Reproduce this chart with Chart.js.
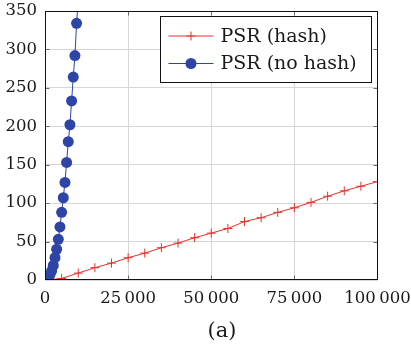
<!DOCTYPE html>
<html>
<head>
<meta charset="utf-8">
<script src="https://cdn.jsdelivr.net/npm/chart.js@4.4.1/dist/chart.umd.min.js"></script>
<style>
  html, body { margin: 0; padding: 0; background: #fff; }
  #wrap { width: 411px; height: 347px; }
</style>
</head>
<body>
<div id="wrap"><canvas id="c" width="411" height="347"></canvas></div>
<script>
// PSR running time with and without hashing
const hashX = [0, 5000, 10000, 15000, 20000, 25000, 30000, 35000, 40000, 45000, 50000,
               55000, 60000, 65000, 70000, 75000, 80000, 85000, 90000, 95000, 100000];
const hashY = [0, 2, 9, 16, 22, 29, 35, 42, 48, 55, 61,
               67, 76, 81, 88, 94, 101, 109, 116, 122, 128];

const noHashX = [0, 500, 1000, 1500, 2000, 2500, 3000, 3500, 4000, 4500, 5000,
                 5500, 6000, 6500, 7000, 7500, 8000, 8500, 9000, 9500, 10000];
const noHashY = [0, 1, 3, 7, 12, 19, 29, 40, 53, 69, 88,
                 107, 127, 153, 180, 202, 233, 264, 292, 334, 366];

const seriesNames = ['PSR (hash)', 'PSR (no hash)'];
const xTicks = [0, 25000, 50000, 75000, 100000];
const yTicks = [0, 50, 100, 150, 200, 250, 300, 350];
const captionText = '(a)';

const RED = 'rgb(230, 50, 45)';
const BLUE = 'rgb(46, 68, 166)';
const FONT = 'DejaVu Serif';

function pts(xs, ys) { return xs.map((x, i) => ({ x: x, y: ys[i] })); }
function fmtThousands(v) {
  return String(v).replace(/\B(?=(\d{3})+(?!\d))/g, '\u2009');
}

// Frame around the plot area with short inward ticks on all four sides
const framePlugin = {
  id: 'frame',
  afterDatasetsDraw(chart) {
    const { ctx, chartArea: a, scales } = chart;
    const L = Math.round(a.left) + 0.5, R = Math.round(a.right) - 0.5;
    const T = Math.round(a.top) + 0.5, B = Math.round(a.bottom) - 0.5;
    ctx.save();
    ctx.strokeStyle = '#6a6a6a';
    ctx.lineWidth = 1;
    ctx.beginPath();
    yTicks.forEach(v => {
      const y = Math.round(scales.y.getPixelForValue(v)) + 0.5;
      if (y <= T + 1 || y >= B - 1) return;
      ctx.moveTo(L, y); ctx.lineTo(L + 4, y);
      ctx.moveTo(R, y); ctx.lineTo(R - 4, y);
    });
    xTicks.forEach(v => {
      const x = Math.round(scales.x.getPixelForValue(v)) + 0.5;
      if (x <= L + 1 || x >= R - 1) return;
      ctx.moveTo(x, B); ctx.lineTo(x, B - 4);
      ctx.moveTo(x, T); ctx.lineTo(x, T + 4);
    });
    ctx.stroke();
    ctx.strokeStyle = '#111';
    ctx.strokeRect(L, T, R - L, B - T);
    ctx.restore();
  }
};

// Boxed legend in the upper right corner plus the caption under the axis
const legendPlugin = {
  id: 'boxLegend',
  afterDraw(chart) {
    const { ctx, chartArea: a } = chart;
    ctx.save();
    ctx.font = '19px "' + FONT + '"';
    const textW = Math.max(...seriesNames.map(s => ctx.measureText(s).width));
    const sampleW = 45, gap = 7, padL = 8, padR = 15;
    const w = Math.round(padL + sampleW + gap + textW + padR);
    const h = 66;
    const right = Math.round(a.right) - 6.5;
    const left = right - w;
    const top = Math.round(a.top) + 5.5;
    ctx.fillStyle = '#fff';
    ctx.fillRect(left, top, w, h);
    ctx.strokeStyle = '#111';
    ctx.lineWidth = 1;
    ctx.strokeRect(left, top, w, h);

    const rows = [top + 19.5, top + 47];
    chart.data.datasets.forEach((ds, i) => {
      const y = rows[i];
      const x0 = left + padL, x1 = x0 + sampleW, xm = (x0 + x1) / 2;
      ctx.strokeStyle = ds.borderColor;
      ctx.lineWidth = 1;
      ctx.beginPath(); ctx.moveTo(x0, y); ctx.lineTo(x1, y); ctx.stroke();
      if (ds.pointStyle === 'cross') {
        const r = ds.pointRadius;
        ctx.beginPath();
        ctx.moveTo(xm - r, y); ctx.lineTo(xm + r, y);
        ctx.moveTo(xm, y - r); ctx.lineTo(xm, y + r);
        ctx.stroke();
      } else {
        ctx.fillStyle = ds.pointBackgroundColor;
        ctx.beginPath(); ctx.arc(xm, y, ds.pointRadius, 0, Math.PI * 2); ctx.fill();
      }
      ctx.fillStyle = '#1a1a1a';
      ctx.textBaseline = 'middle';
      ctx.textAlign = 'left';
      ctx.fillText(ds.label, x1 + gap, y + 1);
    });

    ctx.font = '21px "' + FONT + '"';
    ctx.textAlign = 'center';
    ctx.textBaseline = 'middle';
    ctx.fillStyle = '#1a1a1a';
    ctx.fillText(captionText, 222, 332);
    ctx.restore();
  }
};

new Chart(document.getElementById('c'), {
  type: 'line',
  data: {
    datasets: [
      {
        label: seriesNames[0],
        data: pts(hashX, hashY),
        borderColor: RED,
        backgroundColor: RED,
        borderWidth: 1,
        pointStyle: 'cross',
        pointRadius: 4.5,
        pointBorderWidth: 1,
        pointBorderColor: RED,
        pointBackgroundColor: RED,
        tension: 0
      },
      {
        label: seriesNames[1],
        data: pts(noHashX, noHashY),
        borderColor: BLUE,
        backgroundColor: BLUE,
        borderWidth: 1,
        pointStyle: 'circle',
        pointRadius: 5.5,
        pointBorderWidth: 0,
        pointBackgroundColor: BLUE,
        tension: 0
      }
    ]
  },
  options: {
    responsive: false,
    animation: false,
    events: [],
    layout: { padding: { top: 11, right: 33.5, left: 0, bottom: 0 } },
    plugins: {
      legend: { display: false },
      tooltip: { enabled: false }
    },
    scales: {
      x: {
        type: 'linear',
        min: 0,
        max: 100000,
        afterFit(scale) {
          scale.height = 67;
          scale.paddingLeft = 0;
          scale.paddingRight = 0;
        },
        afterBuildTicks(scale) { scale.ticks = xTicks.map(v => ({ value: v })); },
        grid: { color: '#d6d6d6', lineWidth: 1, drawTicks: false },
        border: { display: false },
        ticks: {
          color: '#1a1a1a',
          padding: 9,
          maxRotation: 0,
          font: { family: FONT, size: 16.5 },
          callback: v => fmtThousands(v)
        }
      },
      y: {
        type: 'linear',
        min: 0,
        max: 350,
        afterFit(scale) {
          scale.width = 45;
          scale.paddingTop = 0;
          scale.paddingBottom = 0;
        },
        afterBuildTicks(scale) { scale.ticks = yTicks.map(v => ({ value: v })); },
        grid: { color: '#d6d6d6', lineWidth: 1, drawTicks: false },
        border: { display: false },
        ticks: {
          color: '#1a1a1a',
          padding: 8,
          font: { family: FONT, size: 16.5 }
        }
      }
    }
  },
  plugins: [framePlugin, legendPlugin]
});
</script>
</body>
</html>
